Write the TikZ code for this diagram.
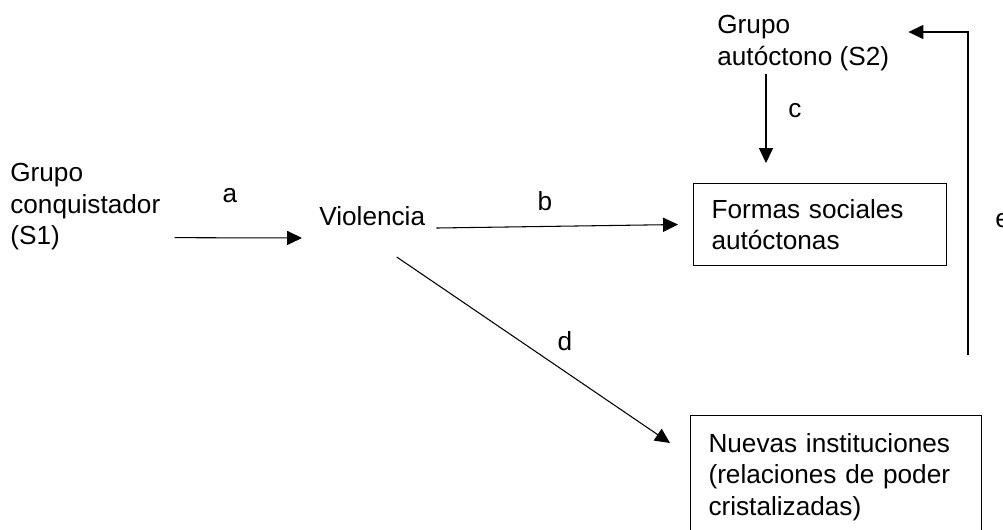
\documentclass[tikz,border=0pt]{standalone}
\usepackage{fontspec}
\setmainfont{Liberation Sans}
\usetikzlibrary{
   arrows.meta,
   positioning
}

\begin{document}
\begin{tikzpicture}[
  x=0.02cm, y=-0.02cm,
  every node/.style={font=\fontsize{14.9pt}{17.9pt}\selectfont, inner sep=0pt},
  caja/.style={draw, line width=0.6pt, align=left, inner xsep=0.36cm, anchor=north west},
  flecha/.style={-{Triangle[length=8.5pt,width=8pt]}, line width=0.6pt},
]

% frame
\useasboundingbox (0,0) rectangle (1003,529);
\clip (0,0) rectangle (1003,529);

% groups
\node[anchor=north west, align=left] (s1) at (10,163) {Grupo\\conquistador\\(S1)};
\node[anchor=base west] (viol) at (319,225) {Violencia};
\node[anchor=north west, align=left] (s2) at (717,15) {Grupo\\autóctono (S2)};

% boxes
\node[caja, text width=4.34cm, minimum width=5.06cm, minimum height=1.64cm] (formas) at (693,183)
  {Formas sociales\\autóctonas};
\node[caja, text width=5.1cm, minimum width=5.82cm, minimum height=2.46cm] (nuevas) at (690,415)
  {Nuevas instituciones\\(relaciones de poder\\cristalizadas)};

% arrows
\draw[flecha] ([shift={(14,31)}]s1.east) -- ([shift={(-17,13)}]viol.base west);
\draw[flecha] ([shift={(11,3)}]viol.base east) -- ([xshift=-0.3cm]formas.west);
\draw[flecha] ([shift={(49,3)}]s2.south west) -- ([shift={(73,-20)}]formas.north west);
\draw[flecha] ([shift={(24.5,32)}]viol.base) -- ([shift={(-20,28)}]nuevas.north west);
\coordinate (einicio) at (968,355);
\draw[flecha] (einicio) |- ([shift={(19,17)}]s2.north east);

% labels
\node[anchor=base] (la) at (230,202) {a};
\node[anchor=base] (lb) at (545,210) {b};
\node[anchor=base] (lc) at (795,117) {c};
\node[anchor=base] (ld) at (565,350) {d};
\node[anchor=base west] (le) at (995,227) {e};

\end{tikzpicture}
\end{document}
